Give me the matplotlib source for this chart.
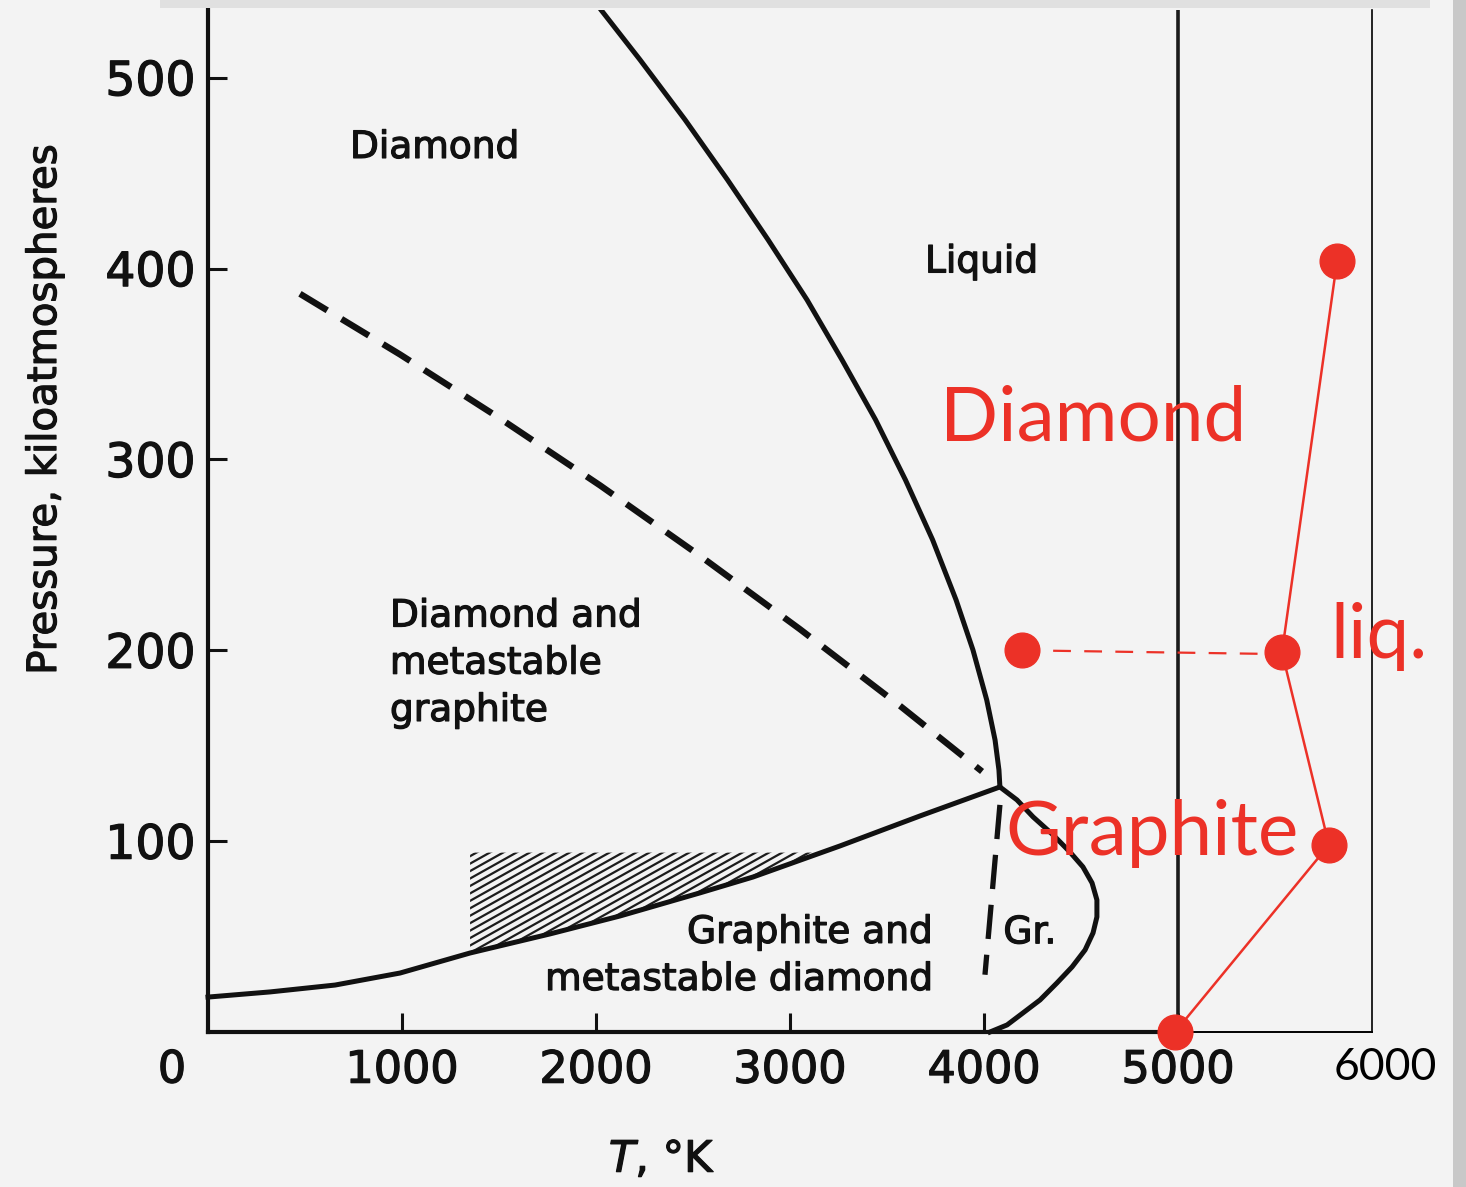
import numpy as np
import matplotlib
matplotlib.use("Agg")
import matplotlib.pyplot as plt
from matplotlib.patches import Polygon, Rectangle
import matplotlib.patheffects as pe

# ---------------- data (T in K, P in kbar) ----------------
melt_T = [2021, 2227, 2459, 2678, 2887, 3088, 3268, 3441, 3595, 3735, 3856, 3943,
          4014, 4057, 4077, 4082]
melt_P = [536.2, 509.4, 478.0, 446.5, 415.1, 383.6, 352.2, 320.8, 289.3, 257.9, 226.4,
          200.2, 174.0, 153.0, 137.3, 128.4]

dg_T = [0, 320, 655, 990, 1351, 1763, 2124, 2536, 2809, 3258, 3670, 4082]
dg_P = [18.3, 21.0, 24.6, 30.9, 41.4, 51.4, 60.8, 72.9, 81.2, 97.5, 113.2, 128.4]

gl_T = [4082, 4170, 4253, 4356, 4443, 4510, 4557, 4582, 4582, 4562, 4521, 4454,
        4376, 4289, 4201, 4119, 4031]
gl_P = [128.4, 121.6, 112.7, 103.3, 94.3, 86.5, 78.1, 69.2, 60.3, 51.9, 43.0, 34.1,
        25.7, 16.8, 10.0, 3.7, 0.0]

meta_T = [474, 990, 1505, 2021, 2536, 3052, 3567, 3990]
meta_P = [386.8, 355.0, 321.5, 286.4, 249.5, 211.0, 170.9, 136.5]

gr_T = [4082, 4005]
gr_P = [119.0, 30.0]

hatch_T_left = 1351
hatch_P_top = 94.0

red_T = [4985, 5778, 5536, 5820]
red_P = [0, 98, 199, 404]
red_dash_T = [4196, 5536]
red_dash_P = [200, 198]

x_ticks = [1000, 2000, 3000, 4000, 5000]
x_ticklabels = ["1000", "2000", "3000", "4000", "5000"]
y_ticks = [100, 200, 300, 400, 500]
y_ticklabels = ["100", "200", "300", "400", "500"]

# ---------------- figure ----------------
W, H, DPI = 1466, 1187, 100
BG = "#f3f3f3"
RED = "#ec3127"
INK = "#111111"
ink_fx = [pe.withStroke(linewidth=0.9, foreground=INK)]
fig = plt.figure(figsize=(W / DPI, H / DPI), dpi=DPI, facecolor=BG)

# screenshot shadows
fig.patches.append(Rectangle((160 / W, 1 - 8 / H), 1270 / W, 8 / H, transform=fig.transFigure,
                             facecolor="#e0e0e0", edgecolor="none", zorder=0))
fig.patches.append(Rectangle((1453 / W, 0), 13 / W, 1, transform=fig.transFigure,
                             facecolor="#c8c8c8", edgecolor="none", zorder=0))

ax = fig.add_axes([208 / W, (H - 1032) / H, (1372 - 208) / W, (1032 - 10) / H])
ax.set_facecolor("none")
ax.set_xlim(0, 6000)
ax.set_ylim(0, 535.5)

ax.spines["top"].set_visible(False)
ax.spines["left"].set_linewidth(3.0)
ax.spines["left"].set_color(INK)
ax.spines["bottom"].set_linewidth(3.0)
ax.spines["bottom"].set_color(INK)
ax.spines["bottom"].set_bounds(0, 5000)
ax.spines["right"].set_linewidth(1.2)
ax.spines["right"].set_color("black")
ax.plot([5000, 6000], [0, 0], color="black", lw=1.4, clip_on=False, zorder=3)
ax.axvline(5000, color="#1a1a1a", lw=2.6, zorder=2)

ax.set_xticks(x_ticks)
ax.set_xticklabels(x_ticklabels)
ax.set_yticks(y_ticks)
ax.set_yticklabels(y_ticklabels)
ax.tick_params(axis="both", direction="in", length=14, width=2.2, color=INK, labelcolor=INK)
ax.tick_params(axis="x", labelsize=32, pad=12)
ax.tick_params(axis="y", labelsize=34, pad=9)
for t in ax.get_xticklabels() + ax.get_yticklabels():
    t.set_family("DejaVu Sans")
    t.set_path_effects(ink_fx)

ax.annotate("0", xy=(0, 0), xytext=(-36, -38), textcoords="offset pixels",
            ha="center", va="center", fontsize=32, color=INK, family="DejaVu Sans",
            annotation_clip=False, path_effects=ink_fx)
ax.annotate("6000", xy=(6000, 0), xytext=(13, -36), textcoords="offset pixels",
            ha="center", va="center", fontsize=32, color="black", family="Lato",
            annotation_clip=False)

fig.text(45 / W, 1 - 410 / H, "Pressure, kiloatmospheres", rotation=90, ha="center",
         va="center", fontsize=29, color=INK, family="DejaVu Sans", path_effects=ink_fx)
fig.text(662 / W, 1 - 1160 / H, r"$T$, °K", ha="center", va="center", fontsize=31,
         color=INK, family="DejaVu Sans", path_effects=ink_fx)

# ---------------- phase boundaries ----------------
lw_main = 3.6
ax.plot(melt_T, melt_P, color=INK, lw=lw_main, solid_capstyle="butt", solid_joinstyle="round", zorder=4)
ax.plot(dg_T, dg_P, color=INK, lw=lw_main, solid_joinstyle="round", zorder=4, clip_on=False)
ax.plot(gl_T, gl_P, color=INK, lw=lw_main, solid_joinstyle="round", zorder=4, clip_on=False)
ax.plot(meta_T, meta_P, color=INK, lw=4.6, linestyle=(0, (5.0, 2.6)), zorder=4)
ax.plot(gr_T, gr_P, color=INK, lw=3.8, linestyle=(0, (6.5, 3.0)), zorder=4)

# ---------------- hatched region ----------------
dgT = np.asarray(dg_T, float)
dgP = np.asarray(dg_P, float)
T_end = float(np.interp(hatch_P_top, dgP, dgT))
P_start = float(np.interp(hatch_T_left, dgT, dgP))
inner = [(t, p) for t, p in zip(dgT, dgP) if hatch_T_left < t < T_end]
poly_pts = [(hatch_T_left, hatch_P_top), (T_end, hatch_P_top)] + inner[::-1] + [(hatch_T_left, P_start)]
hpoly = Polygon(poly_pts, closed=True, facecolor="none", edgecolor="none")
ax.add_patch(hpoly)
slope = 0.56 * (1164 / 6000) / (1022 / 535.5)  # shallow hatch direction
spacing = 3.9
offsets = np.arange(P_start - slope * (T_end - hatch_T_left) - 10, hatch_P_top + 10, spacing)
for c in offsets:
    ln, = ax.plot([hatch_T_left - 50, T_end + 50],
                  [c + slope * (-50), c + slope * (T_end - hatch_T_left + 50)],
                  color="#1c1c1c", lw=1.6, zorder=3)
    ln.set_clip_path(hpoly)

# ---------------- scanned labels ----------------
sk = dict(color=INK, family="DejaVu Sans", fontsize=27, path_effects=ink_fx)
ax.text(732, 458, "Diamond", ha="left", va="baseline", **sk)
ax.text(3696, 398, "Liquid", ha="left", va="baseline", **sk)
ax.text(938, 163, "Diamond and\nmetastable\ngraphite", ha="left", va="baseline",
        linespacing=1.4, **sk)
ax.text(3735, 22, "Graphite and\nmetastable diamond", ha="right", va="baseline",
        multialignment="right", linespacing=1.4, **sk)
ax.text(4100, 46.5, "Gr.", ha="left", va="baseline", **sk)

# ---------------- red overlay ----------------
ax.plot(red_T, red_P, color=RED, lw=1.8, zorder=6, clip_on=False)
ax.plot(red_dash_T, red_dash_P, color=RED, lw=1.6, linestyle=(0, (8, 6)), zorder=6)
ax.plot(red_T, red_P, linestyle="none", marker="o", ms=25, color=RED, zorder=7, clip_on=False)
ax.plot(red_dash_T[:1], red_dash_P[:1], linestyle="none", marker="o", ms=25, color=RED, zorder=7)

rk = dict(color=RED, family="Lato", fontsize=55)
ax.text(3773, 310, "Diamond", ha="left", va="baseline", zorder=8, **rk)
ax.text(4108, 92.8, "Graphite", ha="left", va="baseline", zorder=8, **rk)
ax.text(5784, 196, "liq.", ha="left", va="baseline", zorder=8, **rk)

fig.savefig("out.png", dpi=DPI, facecolor=BG)
